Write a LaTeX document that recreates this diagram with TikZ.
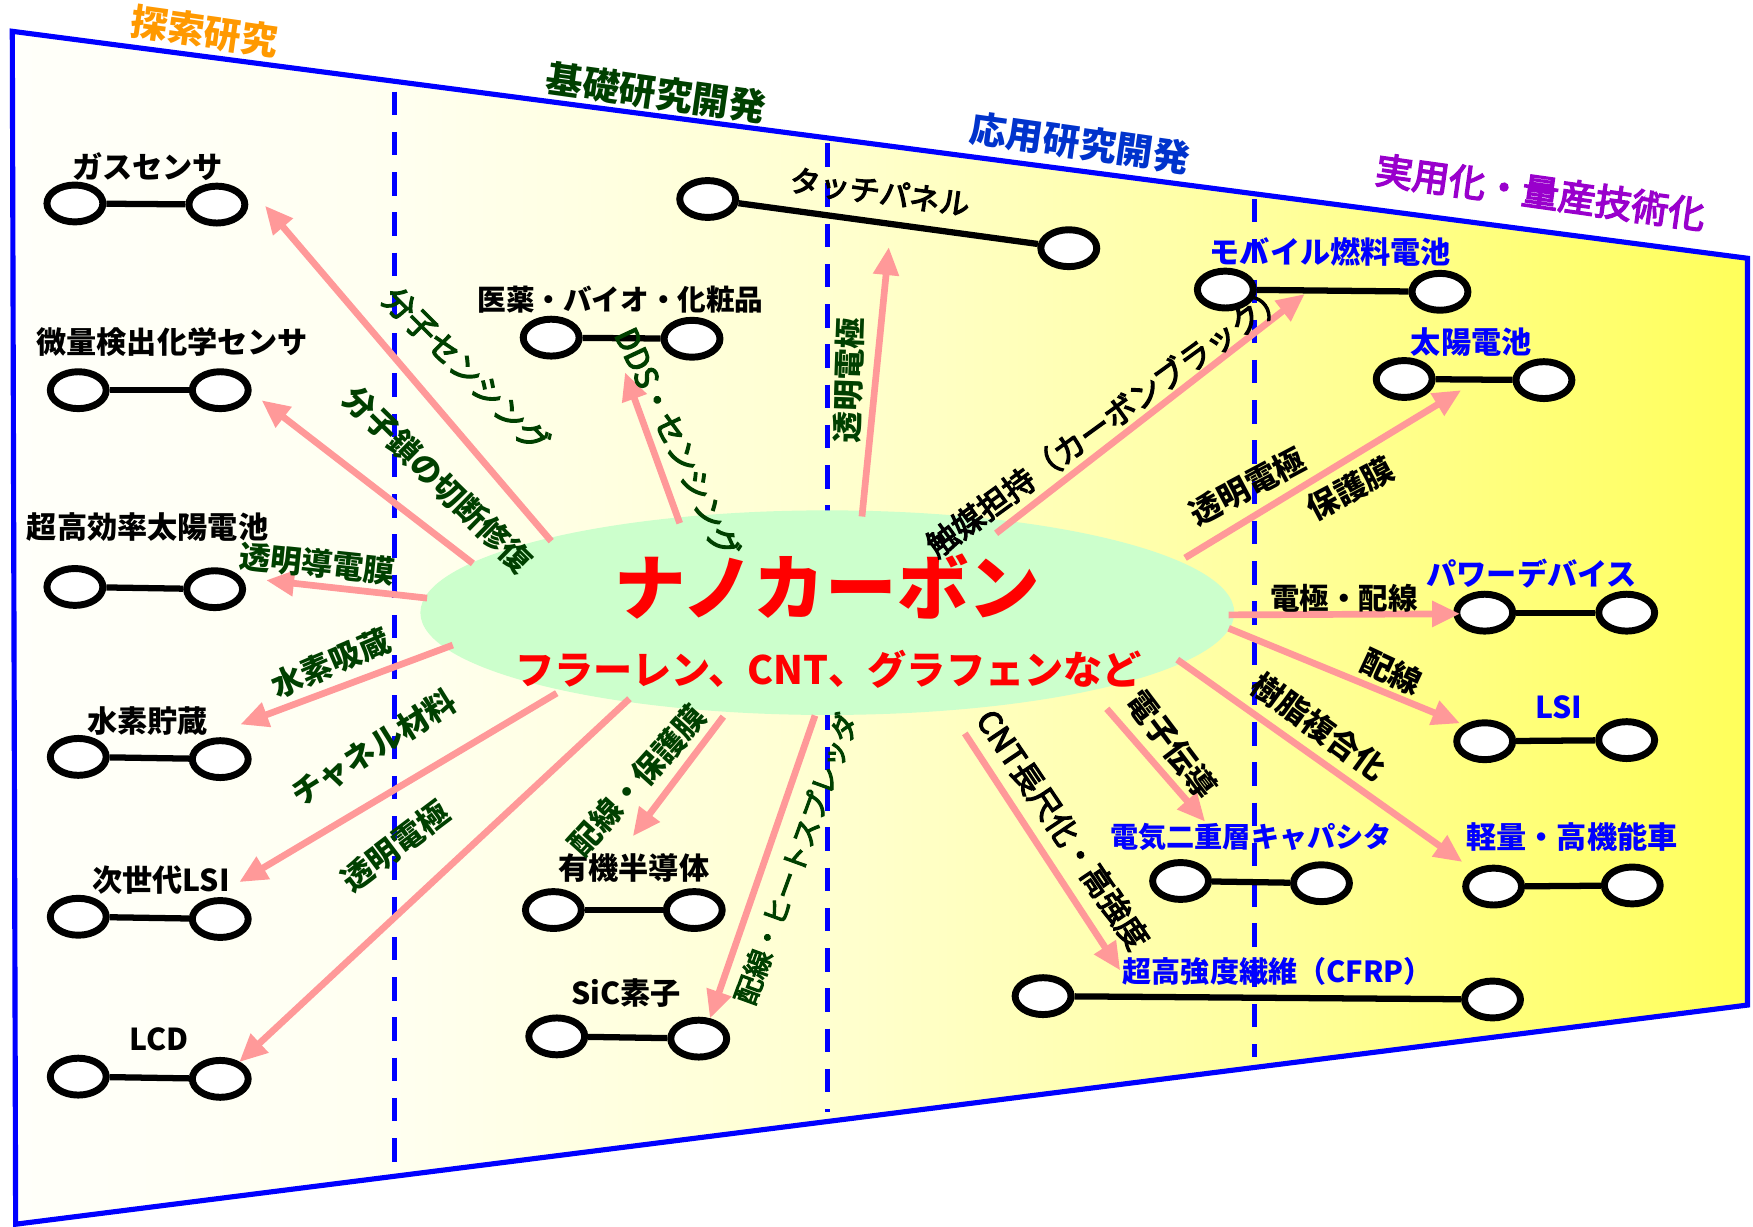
\documentclass[tikz,border=0pt]{standalone}
\usepackage{fontspec}
\setmainfont{Noto Sans CJK JP}
\newfontfamily\medfont{Noto Sans CJK JP}[FakeBold=4]
\usetikzlibrary{shapes.geometric,arrows.meta}
\definecolor{pinkc}{HTML}{FF9999}
\definecolor{greenc}{HTML}{CCFFCC}
\definecolor{dgreen}{HTML}{004000}
\definecolor{bluec}{HTML}{0000FF}
\definecolor{stageblue}{HTML}{0033CC}
\definecolor{orangec}{HTML}{FF9900}
\definecolor{purplec}{HTML}{9900CC}
\definecolor{bg0}{HTML}{FFFFFA}
\definecolor{bg1}{HTML}{FFFFF0}
\definecolor{bg2}{HTML}{FFFFD0}
\definecolor{bg3}{HTML}{FFFFA0}
\definecolor{bg4}{HTML}{FFFF5A}
\pgfdeclarehorizontalshading{bgshade}{100bp}{color(0bp)=(bg0); color(25bp)=(bg0); color(36bp)=(bg1); color(48.5bp)=(bg2); color(60.7bp)=(bg3); color(75bp)=(bg4); color(100bp)=(bg4)}
\tikzset{
 bell/.style={ellipse, draw=black, fill=white, line width=3.1pt, minimum width=25pt, minimum height=16.5pt, inner sep=0pt},
 bar/.style={draw=black, line width=2.8pt},
 arr/.style={draw=pinkc, line width=3pt, -{Triangle[length=12.5pt,width=11pt]}},
 nlab/.style={font=\fontsize{13.5}{15}\selectfont\bfseries, text=black, inner sep=0pt},
 rlab/.style={nlab, text=bluec},
 glab/.style={font=\fontsize{14}{16}\selectfont\bfseries, text=dgreen, inner sep=0pt},
 glabn/.style={font=\medfont\fontsize{14}{16}\selectfont, text=dgreen, inner sep=0pt},
 klab/.style={font=\fontsize{14}{16}\selectfont\bfseries, text=black, inner sep=0pt},
 klabn/.style={font=\medfont\fontsize{14}{16}\selectfont, text=black, inner sep=0pt},
 stage/.style={font=\fontsize{16.5}{18}\selectfont\bfseries, inner sep=0pt, rotate=-8},
 vdash/.style={draw=bluec, line width=2.1pt, dash pattern=on 10.5pt off 7.5pt},
}
\begin{document}
\begin{tikzpicture}[x=0.5pt,y=-0.5pt]
\useasboundingbox (0,0) rectangle (1568,1097.5);
\fill[white] (0,0) rectangle (1568,1097.5);
% frame
\shade[shading=bgshade] (11,28) -- (1563,231) -- (1563,899) -- (14,1095) -- cycle;
\draw[bluec, line width=2.3pt, line join=miter] (11,28) -- (1563,231) -- (1563,899) -- (14,1095) -- cycle;
% stage separators
\draw[vdash] (353,82) -- (353,1045);
\draw[vdash] (740,128) -- (740,995);
\draw[vdash] (1122,178) -- (1122,945);
% stage labels
\node[stage, text=orangec] (st1) at (183,28) {探索研究};
\node[stage, text=dgreen] (st2) at (587,83) {基礎研究開発};
\node[stage, text=stageblue] (st3) at (966,128) {応用研究開発};
\node[stage, text=purplec, font=\medfont\fontsize{16.5}{18}\selectfont] (st4) at (1378,172) {実用化・量産技術化};
% center
\node[ellipse, fill=greenc, minimum width=364pt, minimum height=91.5pt, inner sep=0pt] (nc) at (740,548) {};
% dumbbells
\node[bell] (gasL) at (67,182) {}; \node[bell] (gasR) at (194,183) {}; \draw[bar] (gasL) -- (gasR);
\node[bell] (bitL) at (70,349) {}; \node[bell] (bitR) at (197,349) {}; \draw[bar] (bitL) -- (bitR);
\node[bell] (chkL) at (67,525) {}; \node[bell] (chkR) at (192,527) {}; \draw[bar] (chkL) -- (chkR);
\node[bell] (h2L) at (70,677) {}; \node[bell] (h2R) at (197,679) {}; \draw[bar] (h2L) -- (h2R);
\node[bell] (lsiaL) at (70,820) {}; \node[bell] (lsiaR) at (197,822) {}; \draw[bar] (lsiaL) -- (lsiaR);
\node[bell] (lcdL) at (70,963) {}; \node[bell] (lcdR) at (197,965) {}; \draw[bar] (lcdL) -- (lcdR);
\node[bell] (medL) at (493,302) {}; \node[bell] (medR) at (619,303) {}; \draw[bar] (medL) -- (medR);
\node[bell] (tpL) at (633,178) {}; \node[bell] (tpR) at (956,222) {}; \draw[bar] (tpL) -- (tpR);
\node[bell] (orgL) at (495,814) {}; \node[bell] (orgR) at (621,814) {}; \draw[bar] (orgL) -- (orgR);
\node[bell] (sicL) at (498,927) {}; \node[bell] (sicR) at (625,929) {}; \draw[bar] (sicL) -- (sicR);
\node[bell] (mobL) at (1096,259) {}; \node[bell] (mobR) at (1288,261) {}; \draw[bar] (mobL) -- (mobR);
\node[bell] (solL) at (1256,339) {}; \node[bell] (solR) at (1381,340) {}; \draw[bar] (solL) -- (solR);
\node[bell] (pwL) at (1328,548) {}; \node[bell] (pwR) at (1455,548) {}; \draw[bar] (pwL) -- (pwR);
\node[bell] (lsiL) at (1328,663) {}; \node[bell] (lsiR) at (1455,662) {}; \draw[bar] (lsiL) -- (lsiR);
\node[bell] (edlL) at (1056,788) {}; \node[bell] (edlR) at (1182,790) {}; \draw[bar] (edlL) -- (edlR);
\node[bell] (carL) at (1336,793) {}; \node[bell] (carR) at (1460,792) {}; \draw[bar] (carL) -- (carR);
\node[bell] (cfL) at (933,891) {}; \node[bell] (cfR) at (1335,894) {}; \draw[bar] (cfL) -- (cfR);
% arrows
\coordinate (a1s) at (493,484); \coordinate (a1e) at (237,184); \draw[arr] (a1s) -- (a1e);
\coordinate (a2s) at (423,504); \coordinate (a2e) at (234,358); \draw[arr] (a2s) -- (a2e);
\coordinate (a3s) at (382,535); \coordinate (a3e) at (238,519); \draw[arr] (a3s) -- (a3e);
\coordinate (a4s) at (405,577); \coordinate (a4e) at (215,648); \draw[arr] (a4s) -- (a4e);
\coordinate (a5s) at (498,620); \coordinate (a5e) at (214,789); \draw[arr] (a5s) -- (a5e);
\coordinate (a6s) at (563,625); \coordinate (a6e) at (214,950); \draw[arr] (a6s) -- (a6e);
\coordinate (a7s) at (608,468); \coordinate (a7e) at (559,333); \draw[arr] (a7s) -- (a7e);
\coordinate (a8s) at (771,462); \coordinate (a8e) at (795,221); \draw[arr] (a8s) -- (a8e);
\coordinate (a9s) at (891,477); \coordinate (a9e) at (1167,263); \draw[arr] (a9s) -- (a9e);
\coordinate (a10s) at (1060,499); \coordinate (a10e) at (1307,349); \draw[arr] (a10s) -- (a10e);
\coordinate (a11s) at (1099,550); \coordinate (a11e) at (1306,549); \draw[arr] (a11s) -- (a11e);
\coordinate (a12s) at (1099,562); \coordinate (a12e) at (1306,647); \draw[arr] (a12s) -- (a12e);
\coordinate (a13s) at (1053,590); \coordinate (a13e) at (1308,771); \draw[arr] (a13s) -- (a13e);
\coordinate (a14s) at (990,634); \coordinate (a14e) at (1078,735); \draw[arr] (a14s) -- (a14e);
\coordinate (a15s) at (863,656); \coordinate (a15e) at (1002,868); \draw[arr] (a15s) -- (a15e);
\coordinate (a16s) at (647,641); \coordinate (a16e) at (566,748); \draw[arr] (a16s) -- (a16e);
\coordinate (a17s) at (729,640); \coordinate (a17e) at (635,911); \draw[arr] (a17s) -- (a17e);
% center text
\node[text=red, font=\fontsize{32}{36}\selectfont\bfseries, inner sep=0pt] (nct1) at (740,525) {ナノカーボン};
\node[text=red, font=\fontsize{17.5}{20}\selectfont\bfseries, inner sep=0pt] (nct2) at (741,599) {フラーレン、CNT、グラフェンなど};
% node labels
\node[nlab] (gasT) at (132,149) {ガスセンサ};
\node[nlab] (bitT) at (154,306) {微量検出化学センサ};
\node[nlab] (chkT) at (132,471) {超高効率太陽電池};
\node[nlab] (h2T) at (132,645) {水素貯蔵};
\node[nlab] (lsiaT) at (144,787) {次世代LSI};
\node[nlab] (lcdT) at (142,930) {LCD};
\node[nlab, font=\fontsize{12.8}{15}\selectfont\bfseries] (medT) at (555,268) {医薬・バイオ・化粧品};
\node[nlab, rotate=-8, font=\medfont\fontsize{13.5}{15}\selectfont] (tpT) at (787,172) {タッチパネル};
\node[nlab] (orgT) at (567,776) {有機半導体};
\node[nlab] (sicT) at (560,888) {SiC素子};
\node[rlab] (mobT) at (1190,225) {モバイル燃料電池};
\node[rlab] (solT) at (1316,306) {太陽電池};
\node[rlab] (pwT) at (1370,513) {パワーデバイス};
\node[rlab] (lsiT) at (1394,633) {LSI};
\node[rlab, font=\fontsize{12.6}{15}\selectfont\bfseries] (edlT) at (1119,749) {電気二重層キャパシタ};
\node[rlab] (carT) at (1406,749) {軽量・高機能車};
\node[rlab, font=\fontsize{13}{15}\selectfont\bfseries] (cfT) at (1143,869) {超高強度繊維（CFRP）};
% arrow labels
\node[glabn, rotate=-45] (l1) at (417,331) {分子センシング};
\node[glab, rotate=-44.5] (l2) at (392,429) {分子鎖の切断修復};
\node[glab, rotate=-6] (l3) at (284,504) {透明導電膜};
\node[glab, rotate=23] (l4) at (296,593) {水素吸蔵};
\node[glab, rotate=32] (l5) at (334,669) {チャネル材料};
\node[glab, rotate=37] (l6) at (354,757) {透明電極};
\node[glabn, rotate=-65] (l7) at (606,396) {DDS・センシング};
\node[glab, rotate=88] (l8) at (759,340) {透明電極};
\node[klabn, rotate=36] (l9) at (990,376) {触媒担持（カーボンブラック）};
\node[klab, rotate=28] (l10a) at (1116,435) {透明電極};
\node[klab, rotate=28] (l10b) at (1208,437) {保護膜};
\node[klab, font=\fontsize{13.2}{15}\selectfont\bfseries] (l11) at (1202,535) {電極・配線};
\node[klab, rotate=-25] (l12) at (1245,601) {配線};
\node[klab, rotate=-36] (l13) at (1180,650) {樹脂複合化};
\node[klab, rotate=-53] (l14) at (1048,666) {電子伝導};
\node[klabn, rotate=-56] (l15) at (951,742) {CNT長尺化・高強度};
\node[glab, rotate=48] (l16) at (570,698) {配線・保護膜};
\node[glabn, rotate=70, font=\medfont\fontsize{12.5}{15}\selectfont] (l17) at (712,768) {配線・ヒートスプレッダ};
\end{tikzpicture}
\end{document}
